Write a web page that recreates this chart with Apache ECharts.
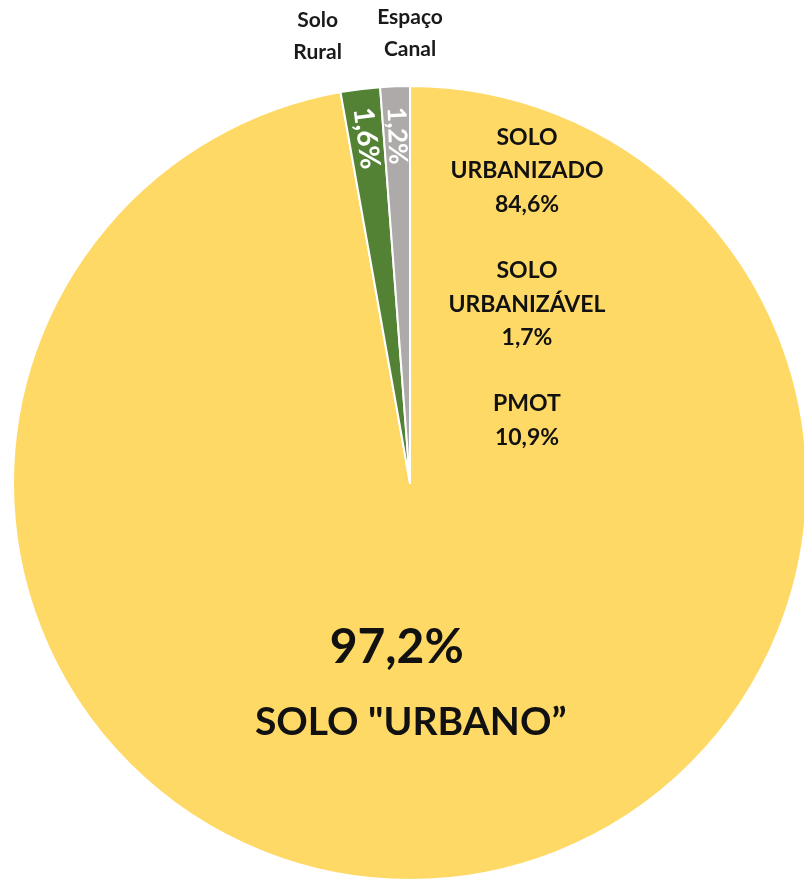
<!DOCTYPE html>
<html>
<head>
<meta charset="utf-8">
<script src="https://cdn.jsdelivr.net/npm/echarts@6/dist/echarts.min.js"></script>
<style>
  html, body { margin: 0; padding: 0; background: #fff; }
  #main { width: 804px; height: 883px; }
</style>
</head>
<body>
<div id="main"></div>
<script>
// dados
const categories = ['SOLO "URBANO”', 'Solo\nRural', 'Espaço\nCanal'];
const values = [97.2, 1.6, 1.2];
const colors = ['#FFD966', '#548235', '#AEAAAA'];
// decomposição do solo urbano
const subNames = ['SOLO\nURBANIZADO', 'SOLO\nURBANIZÁVEL', 'PMOT'];
const subValues = [84.6, 1.7, 10.9];

function pct(v) {
    return v.toFixed(1).replace('.', ',') + '%';
}

let $e = echarts.init(document.getElementById('main'));
let center = [410, 483];
let R = 397;

let mainData = categories.map(function (name, i) {
    let d = { name: name, value: values[i], itemStyle: { color: colors[i] } };
    if (i > 0) d.label = { show: false };
    return d;
});

// anéis transparentes só para posicionar rótulos
let pctSize = [0, 28, 26];
let ringData = categories.map(function (name, i) {
    return {
        name: name,
        value: values[i],
        label: { show: i > 0 },
        itemStyle: { color: 'rgba(0,0,0,0)' }
    };
});
let pctData = categories.map(function (name, i) {
    return {
        name: name,
        value: values[i],
        label: { show: i > 0, fontSize: pctSize[i] },
        itemStyle: { color: 'rgba(0,0,0,0)' }
    };
});

let nameShift = [0, -36, 17];

let subText = subNames.map(function (n, i) {
    return n + '\n' + pct(subValues[i]);
}).join('\n\n');

let option = {
    backgroundColor: '#fff',
    animation: false,
    series: [{
        type: 'pie',
        center: center,
        radius: [0, R],
        startAngle: 90,
        clockwise: true,
        silent: true,
        itemStyle: { borderColor: '#fff', borderWidth: 2 },
        labelLine: { show: false },
        label: {
            show: true,
            position: 'inside',
            formatter: function (p) {
                return '{big|' + pct(p.value) + '}\n{small|' + p.name + '}';
            },
            rich: {
                big: {
                    fontFamily: 'Lato', fontWeight: 'bold', fontSize: 48,
                    color: '#111', lineHeight: 78, padding: [0, 28, 0, 0]
                },
                small: {
                    fontFamily: 'Lato', fontWeight: 'bold', fontSize: 39,
                    color: '#111', lineHeight: 72
                }
            }
        },
        labelLayout: function (p) {
            return { dx: -17, dy: 0 };
        },
        data: mainData
    }, {
        // percentagens nas fatias pequenas
        type: 'pie',
        center: center,
        radius: [292, R],
        startAngle: 90,
        clockwise: true,
        silent: true,
        z: 3,
        itemStyle: { borderWidth: 0 },
        labelLine: { show: false },
        label: {
            position: 'inside',
            rotate: 'radial',
            color: '#fff',
            fontFamily: 'Lato',
            fontWeight: 'bold',
            fontSize: 28,
            formatter: function (p) { return pct(p.value); }
        },
        data: pctData
    }, {
        // nomes por cima
        type: 'pie',
        center: center,
        radius: [420, 474],
        startAngle: 90,
        clockwise: true,
        silent: true,
        z: 3,
        itemStyle: { borderWidth: 0 },
        labelLine: { show: false },
        label: {
            position: 'inside',
            color: '#1a1a1a',
            fontFamily: 'Lato',
            fontWeight: 'bold',
            fontSize: 21,
            lineHeight: 32,
            formatter: function (p) { return p.name; }
        },
        labelLayout: function (p) {
            return { dx: nameShift[p.dataIndex] };
        },
        data: ringData
    }],
    graphic: [{
        type: 'text',
        x: 527,
        y: 121,
        z: 10,
        style: {
            text: subText,
            x: 0,
            y: 0,
            align: 'center',
            textAlign: 'center',
            verticalAlign: 'top',
            fontFamily: 'Lato',
            fontWeight: 'bold',
            fontSize: 23,
            lineHeight: 33.3,
            fill: '#111'
        }
    }]
};

$e.setOption(option);
window.onresize = function () {
    $e.resize();
};
</script>
</body>
</html>
